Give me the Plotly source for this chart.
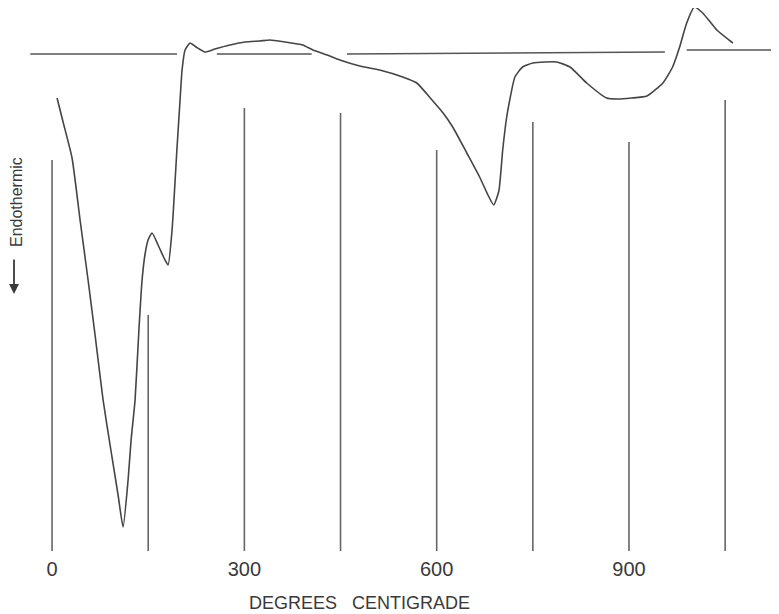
import plotly.graph_objects as go

# DTA curve (temperature in deg C, deflection in arbitrary units; baseline = 0, up = exothermic)
temp_c = [7.8, 17.2, 31.2, 43.7, 56.2, 67.1, 79.6, 90.5, 103, 110.8, 118.6, 123.3, 129.5,
          135.5, 140.4, 145.1, 149.8, 156, 165.4, 174.7, 181, 187.2, 195, 199.7, 202.8, 207.5,
          215.3, 224.6, 238.6, 254, 277.5, 301, 324, 340, 363, 391, 407, 429, 449, 480,
          511, 547, 569, 590, 610, 625, 647, 667, 680, 689, 697, 703, 709, 714, 722, 734,
          750, 769, 787, 808, 834, 865, 881, 904, 928, 953, 968, 979, 990, 1002, 1015,
          1037, 1062]
deflection = [-44, -68, -104, -166, -226, -281, -346, -391, -441, -473, -426, -386, -346,
              -276, -226, -200, -186, -179, -191, -204, -211, -176, -93, -46, -16, 4,
              11, 7, 2, 5, 9, 12, 13, 14, 12, 9, 4, -1, -6, -12,
              -16, -23, -29, -44, -59, -73, -99, -123, -141, -151, -137, -96, -64, -46, -23, -13,
              -9, -8, -8, -13, -29, -44, -45, -44, -42, -29, -13, 7, 31, 47, 41,
              24, 11]

# Baseline segments (start T, end T, start level, end level)
base_start_t = [-34, 257, 460, 990]
base_end_t = [195, 405, 956, 1134]
base_start_y = [0, 0, 0, 4]
base_end_y = [0, 0, 2, 4]

# Temperature marker lines
marker_t = [0, 150, 300, 450, 600, 750, 900, 1050]
marker_top = [-106, -261, -54, -59, -96, -68, -88, -46]
marker_bottom = -497

tick_vals = [0, 300, 600, 900]
tick_text = ["0", "300", "600", "900"]

ink = "#454545"
fig = go.Figure()

mx, my = [], []
for t, top in zip(marker_t, marker_top):
    mx += [t, t, None]
    my += [marker_bottom, top, None]
fig.add_trace(go.Scatter(x=mx, y=my, mode="lines", line=dict(color="#666666", width=1.6),
                         hoverinfo="skip", showlegend=False))

bx, by = [], []
for s, e, ys, ye in zip(base_start_t, base_end_t, base_start_y, base_end_y):
    bx += [s, e, None]
    by += [ys, ye, None]
fig.add_trace(go.Scatter(x=bx, y=by, mode="lines", line=dict(color="#555555", width=1.6),
                         hoverinfo="skip", showlegend=False))

fig.add_trace(go.Scatter(x=temp_c, y=deflection, mode="lines",
                         line=dict(color=ink, width=1.6, shape="spline", smoothing=0.5),
                         showlegend=False))

# The page body has an 8px margin; figure is sized so it fits the window exactly.
OFF = 8
W, H = 779 - OFF, 614 - OFF
L, R, T = 20 - OFF, 0, 0
plot_bottom_page = 555
B = H - (plot_bottom_page - OFF)
pw = W - L - R
ph = H - T - B
y_top = 54 - OFF            # page y 8 -> deflection 46
y_bot = 54 - plot_bottom_page


def px(page_x):
    return (page_x - OFF - L) / pw


def py(page_y):
    return (ph - (page_y - OFF - T)) / ph


txt = "#3a3a3a"
fig.update_layout(
    width=W, height=H,
    margin=dict(l=L, r=R, t=T, b=B),
    paper_bgcolor="white", plot_bgcolor="white",
    font=dict(family="Liberation Sans", color=txt),
    xaxis=dict(range=[-50, 1134], showgrid=False, zeroline=False, showline=False,
               tickvals=tick_vals, ticktext=tick_text, ticks="",
               tickfont=dict(size=20, family="Liberation Sans", color=txt)),
    yaxis=dict(range=[y_bot, y_top], showgrid=False, zeroline=False, showline=False,
               showticklabels=False, ticks=""),
    annotations=[
        dict(text="DEGREES\u00a0\u00a0\u00a0CENTIGRADE", xref="paper", yref="paper",
             x=px(359), y=py(603), xanchor="center", yanchor="middle",
             showarrow=False, font=dict(size=18, family="Liberation Sans", color=txt)),
        dict(text="Endothermic", xref="paper", yref="paper", textangle=-90,
             x=px(16), y=py(202), xanchor="center", yanchor="middle",
             showarrow=False, font=dict(size=16, family="Liberation Sans", color=txt)),
        dict(text="", xref="paper", yref="paper", x=px(14), y=py(294),
             ax=0, ay=-36, showarrow=True, arrowhead=2, arrowsize=1.1,
             arrowwidth=1.8, arrowcolor=txt),
    ],
)

fig.write_html("out.html")
